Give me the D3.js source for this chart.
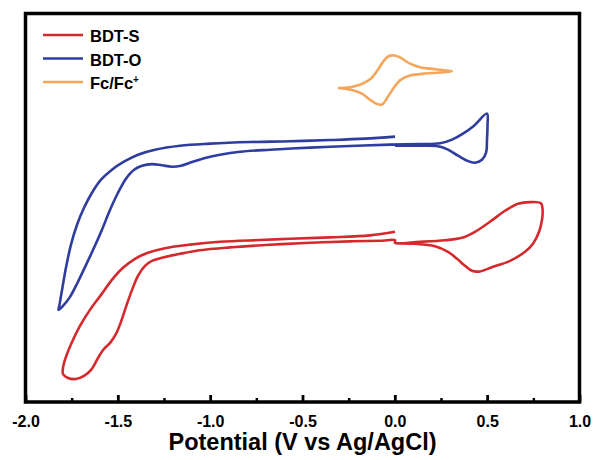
<!DOCTYPE html>
<html>
<head>
<meta charset="utf-8">
<script src="https://cdn.jsdelivr.net/npm/d3@7"></script>
<style>
    body { margin: 0; background: #fff; }
    text { font-family: "Liberation Sans", Arial, sans-serif; font-weight: bold; }
</style>
</head>
<body>
<div id="chart1"></div>
<script>
// Cyclic voltammograms (current in arbitrary units, curves offset)
const bdtSPotential = [0.001, -0.135, -0.351, -0.568, -0.730, -0.947, -1.109, -1.245, -1.337, -1.407, -1.472, -1.532, -1.591, -1.651, -1.705, -1.748, -1.781, -1.797, -1.797, -1.770, -1.727, -1.683, -1.645, -1.613, -1.580, -1.542, -1.510, -1.483, -1.456, -1.423, -1.391, -1.353, -1.315, -1.261, -1.163, -1.055, -0.893, -0.676, -0.459, -0.243, -0.080, 0.001, 0.001, 0.136, 0.272, 0.364, 0.434, 0.515, 0.597, 0.667, 0.732, 0.791, 0.800, 0.797, 0.781, 0.748, 0.705, 0.624, 0.532, 0.461, 0.418, 0.380, 0.337, 0.288, 0.217, 0.109, 0.017];
const bdtSCurrent = [42.5, 41.6, 41.1, 40.75, 40.45, 40.0, 39.3, 38.4, 37.25, 35.75, 33.5, 30.5, 26.75, 23.0, 19.0, 15.0, 11.25, 8.5, 7.0, 6.0, 5.75, 6.5, 8.0, 10.5, 13.0, 14.75, 17.0, 20.0, 23.75, 28.0, 31.5, 34.0, 35.25, 36.0, 37.0, 37.9, 38.6, 39.25, 39.75, 40.1, 40.25, 40.4, 39.75, 40.0, 40.4, 41.0, 42.5, 45.0, 47.75, 49.5, 49.9, 49.6, 48.0, 45.5, 42.5, 39.5, 37.5, 35.25, 33.75, 32.6, 32.75, 34.0, 35.75, 37.5, 38.9, 39.5, 39.6];

const bdtOPotential = [0.001, -0.162, -0.351, -0.568, -0.784, -1.001, -1.163, -1.299, -1.391, -1.467, -1.532, -1.591, -1.640, -1.683, -1.721, -1.754, -1.781, -1.802, -1.816, -1.821, -1.797, -1.759, -1.716, -1.672, -1.629, -1.586, -1.542, -1.499, -1.456, -1.412, -1.369, -1.315, -1.261, -1.207, -1.158, -1.098, -1.028, -0.947, -0.838, -0.676, -0.459, -0.243, -0.026, 0.136, 0.245, 0.310, 0.369, 0.429, 0.499, 0.502, 0.499, 0.494, 0.472, 0.434, 0.391, 0.342, 0.288, 0.228, 0.136, 0.001];
const bdtOCurrent = [66.25, 65.75, 65.4, 65.1, 64.9, 64.5, 64.0, 63.0, 61.75, 60.0, 58.0, 55.5, 52.25, 48.5, 44.25, 39.25, 33.5, 28.0, 24.25, 23.0, 24.0, 26.25, 30.0, 34.25, 38.5, 43.0, 48.0, 52.25, 55.75, 58.0, 59.0, 59.4, 59.1, 58.75, 59.0, 59.9, 60.9, 61.75, 62.5, 63.0, 63.5, 63.9, 64.25, 64.4, 64.6, 65.5, 67.0, 69.0, 72.0, 69.25, 65.5, 62.25, 60.5, 59.75, 60.25, 61.5, 63.0, 63.9, 64.0, 64.0];

const fcPotential = [-0.308, -0.243, -0.178, -0.129, -0.091, -0.059, -0.032, 0.001, 0.033, 0.077, 0.136, 0.217, 0.310, 0.245, 0.163, 0.082, 0.033, -0.005, -0.037, -0.070, -0.097, -0.135, -0.178, -0.232, -0.275, -0.308];
const fcCurrent = [78.4, 78.6, 79.4, 80.75, 83.0, 85.25, 86.4, 86.5, 85.9, 84.6, 83.6, 83.1, 82.6, 82.25, 82.0, 81.5, 80.5, 78.5, 76.25, 74.25, 74.4, 75.5, 77.0, 77.9, 78.25, 78.4];

const seriesNames = ["BDT-S", "BDT-O", "Fc/Fc+"];
const seriesColors = ["#d42a2e", "#2e3d9f", "#f4a75c"];
const xTicks = [-2.0, -1.5, -1.0, -0.5, 0.0, 0.5, 1.0];

const svgWidth = 595, svgHeight = 460;
const margin = { top: 13.5, right: 15.5, bottom: 58, left: 25.5 };
const plotRight = svgWidth - margin.right;
const plotBottom = svgHeight - margin.bottom;

const svg = d3.select("#chart1")
    .append("svg")
    .attr("width", svgWidth)
    .attr("height", svgHeight);

// Scales
const x = d3.scaleLinear()
    .domain([-2.0, 1.0])
    .range([margin.left, plotRight]);

const y = d3.scaleLinear()
    .domain([0, 97])
    .range([plotBottom, margin.top]);

const zip = (xs, ys) => xs.map((v, i) => ({ v: v, c: ys[i] }));
const series = [
    zip(bdtSPotential, bdtSCurrent),
    zip(bdtOPotential, bdtOCurrent),
    zip(fcPotential, fcCurrent)
];

const line = d3.line()
    .curve(d3.curveCatmullRom.alpha(0.5))
    .x(d => x(d.v))
    .y(d => y(d.c));

// Draw the curves
series.forEach((data, i) => {
    svg.append("path")
        .datum(data)
        .attr("fill", "none")
        .attr("stroke", seriesColors[i])
        .attr("stroke-width", 2.6)
        .attr("stroke-linejoin", "round")
        .attr("d", line);
});

// Minor ticks (inward)
svg.append("g")
    .attr("transform", `translate(0, ${plotBottom})`)
    .call(d3.axisBottom(x).tickValues(d3.range(-1.75, 1.0, 0.5)).tickSize(-4).tickFormat(""))
    .call(g => g.select(".domain").remove())
    .call(g => g.selectAll("line").attr("stroke-width", 2.5));

// Major ticks + labels
svg.append("g")
    .attr("transform", `translate(0, ${plotBottom})`)
    .call(d3.axisBottom(x).tickValues(xTicks).tickSize(-7).tickPadding(13.5).tickFormat(d => d.toFixed(1)))
    .call(g => g.select(".domain").remove())
    .call(g => g.selectAll("line").attr("stroke-width", 2.8))
    .call(g => g.selectAll("text")
        .attr("fill", "#000")
        .style("font-size", "16px"));

// Frame
svg.append("rect")
    .attr("x", margin.left)
    .attr("y", margin.top)
    .attr("width", plotRight - margin.left)
    .attr("height", plotBottom - margin.top)
    .attr("fill", "none")
    .attr("stroke", "#000")
    .attr("stroke-width", 3.5);

// X axis label
svg.append("text")
    .attr("x", (margin.left + plotRight) / 2)
    .attr("y", 450)
    .style("text-anchor", "middle")
    .style("font-size", "23.5px")
    .text("Potential (V vs Ag/AgCl)");

// Legend
const legend = svg.append("g");
seriesNames.forEach((name, i) => {
    const ly = 35 + i * 23.5;
    legend.append("line")
        .attr("x1", 43).attr("x2", 83)
        .attr("y1", ly).attr("y2", ly)
        .attr("stroke", seriesColors[i])
        .attr("stroke-width", 2.6);
    const t = legend.append("text")
        .attr("x", 90)
        .attr("y", ly + 7)
        .style("font-size", "16.5px");
    if (name === "Fc/Fc+") {
        t.append("tspan").text("Fc/Fc");
        t.append("tspan").attr("dy", -6).style("font-size", "10px").text("+");
    } else {
        t.text(name);
    }
});
</script>
</body>
</html>
